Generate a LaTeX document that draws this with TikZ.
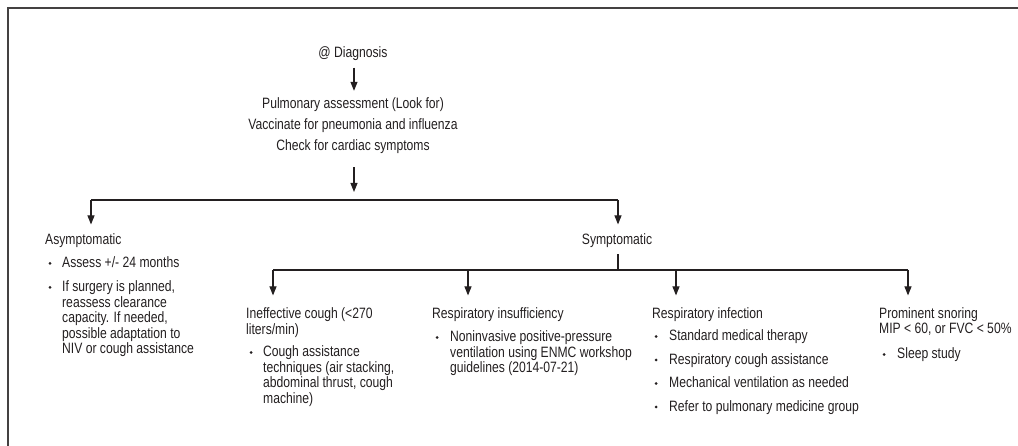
\documentclass[tikz,border=0pt]{standalone}
\usepackage{fontspec}
\setmainfont{Liberation Sans}[FakeStretch=0.81]
\usetikzlibrary{arrows.meta}
\definecolor{ink}{HTML}{231F20}
\newcommand\lblk[1]{\begin{tabular}[t]{@{}l@{}}#1\end{tabular}}
\newcommand\cblk[1]{\begin{tabular}[t]{@{}c@{}}#1\end{tabular}}
\begin{document}
\begin{tikzpicture}[x=1pt,y=-1pt,
  txt/.style={inner sep=0pt, text=ink, font=\fontsize{15}{15}\selectfont},
  hd/.style={txt, anchor=base west},
  ctr/.style={txt, anchor=base},
  conn/.style={draw=ink, line width=1.1pt},
  arr/.style={conn, -{Triangle[length=9pt,width=7pt]}},
  bul/.style={fill=ink},
  frameline/.style={draw=ink!85, line width=1.6pt}]
\useasboundingbox (0,0) rectangle (1018,446);
\draw[frameline] (8,446) -- (8,8) -- (1018,8);

% top
\node[ctr] (diag) at (353,58) {\cblk{@ Diagnosis}};
\node[ctr, font=\fontsize{15}{21}\selectfont] (assess) at (353,109)
  {\cblk{Pulmonary assessment (Look for)\\Vaccinate for pneumonia and influenza\\Check for cardiac symptoms}};
\coordinate (hub) at (354,200);
\coordinate (bl) at (91,200);
\coordinate (br) at (618,200);

% level 2
\node[hd] (asym) at (45,245) {\lblk{Asymptomatic}};
\node[hd] (a1) at (62,268) {\lblk{Assess +/- 24 months}};
\node[hd] (a2) at (62,292) {\lblk{If surgery is planned,\\reassess clearance\\capacity. If needed,\\possible adaptation to\\NIV or cough assistance}};
\fill[bul] (50,263.5) circle (1.5);
\fill[bul] (50,287.5) circle (1.5);

\node[ctr] (sym) at (617,245) {\cblk{Symptomatic}};
\coordinate (sb) at (618,270);
\coordinate (c1) at (273,270);
\coordinate (c2) at (468,270);
\coordinate (c3) at (676,270);
\coordinate (c4) at (908,270);

% level 3
\node[hd] (ineff) at (246,319) {\lblk{Ineffective cough (<270\\liters/min)}};
\node[hd] (i1) at (263,357) {\lblk{Cough assistance\\techniques (air stacking,\\abdominal thrust, cough\\machine)}};
\fill[bul] (251,352.5) circle (1.5);

\node[hd] (insuf) at (432,318.5) {\lblk{Respiratory insufficiency}};
\node[hd] (n1) at (450,342) {\lblk{Noninvasive positive-pressure\\ventilation using ENMC workshop\\guidelines (2014-07-21)}};
\fill[bul] (437,337.5) circle (1.5);

\node[hd] (infec) at (652,318.5) {\lblk{Respiratory infection}};
\node[hd] (f1) at (669,341) {\lblk{Standard medical therapy}};
\node[hd] (f2) at (669,364.5) {\lblk{Respiratory cough assistance}};
\node[hd] (f3) at (669,388) {\lblk{Mechanical ventilation as needed}};
\node[hd] (f4) at (669,411.5) {\lblk{Refer to pulmonary medicine group}};
\fill[bul] (656,336.5) circle (1.5);
\fill[bul] (656,360) circle (1.5);
\fill[bul] (656,383.5) circle (1.5);
\fill[bul] (656,407) circle (1.5);

\node[hd] (snore) at (879,318.5) {\lblk{Prominent snoring\\MIP < 60, or FVC < 50\%}};
\node[hd] (s1) at (897,359) {\lblk{Sleep study}};
\fill[bul] (884,354.5) circle (1.5);

% connectors
\draw[arr, shorten <=5pt, shorten >=3.3pt] (diag.south -| hub) -- (hub |- assess.north);
\draw[arr, shorten <=9.7pt, shorten >=8pt] (hub |- assess.south) -- (hub);
\draw[conn] (bl) -- (br);
\draw[arr, shorten >=9.5pt] (bl) -- (bl |- asym.north);
\draw[arr, shorten >=9.5pt] (br) -- (br |- sym.north);
\draw[conn, shorten <=4.5pt] (sb |- sym.south) -- (sb);
\draw[conn] (c1) -- (c4);
\draw[arr, shorten >=12.5pt] (c1) -- (c1 |- ineff.north);
\draw[arr, shorten >=12pt] (c2) -- (c2 |- insuf.north);
\draw[arr, shorten >=12pt] (c3) -- (c3 |- infec.north);
\draw[arr, shorten >=12pt] (c4) -- (c4 |- snore.north);
\end{tikzpicture}
\end{document}
